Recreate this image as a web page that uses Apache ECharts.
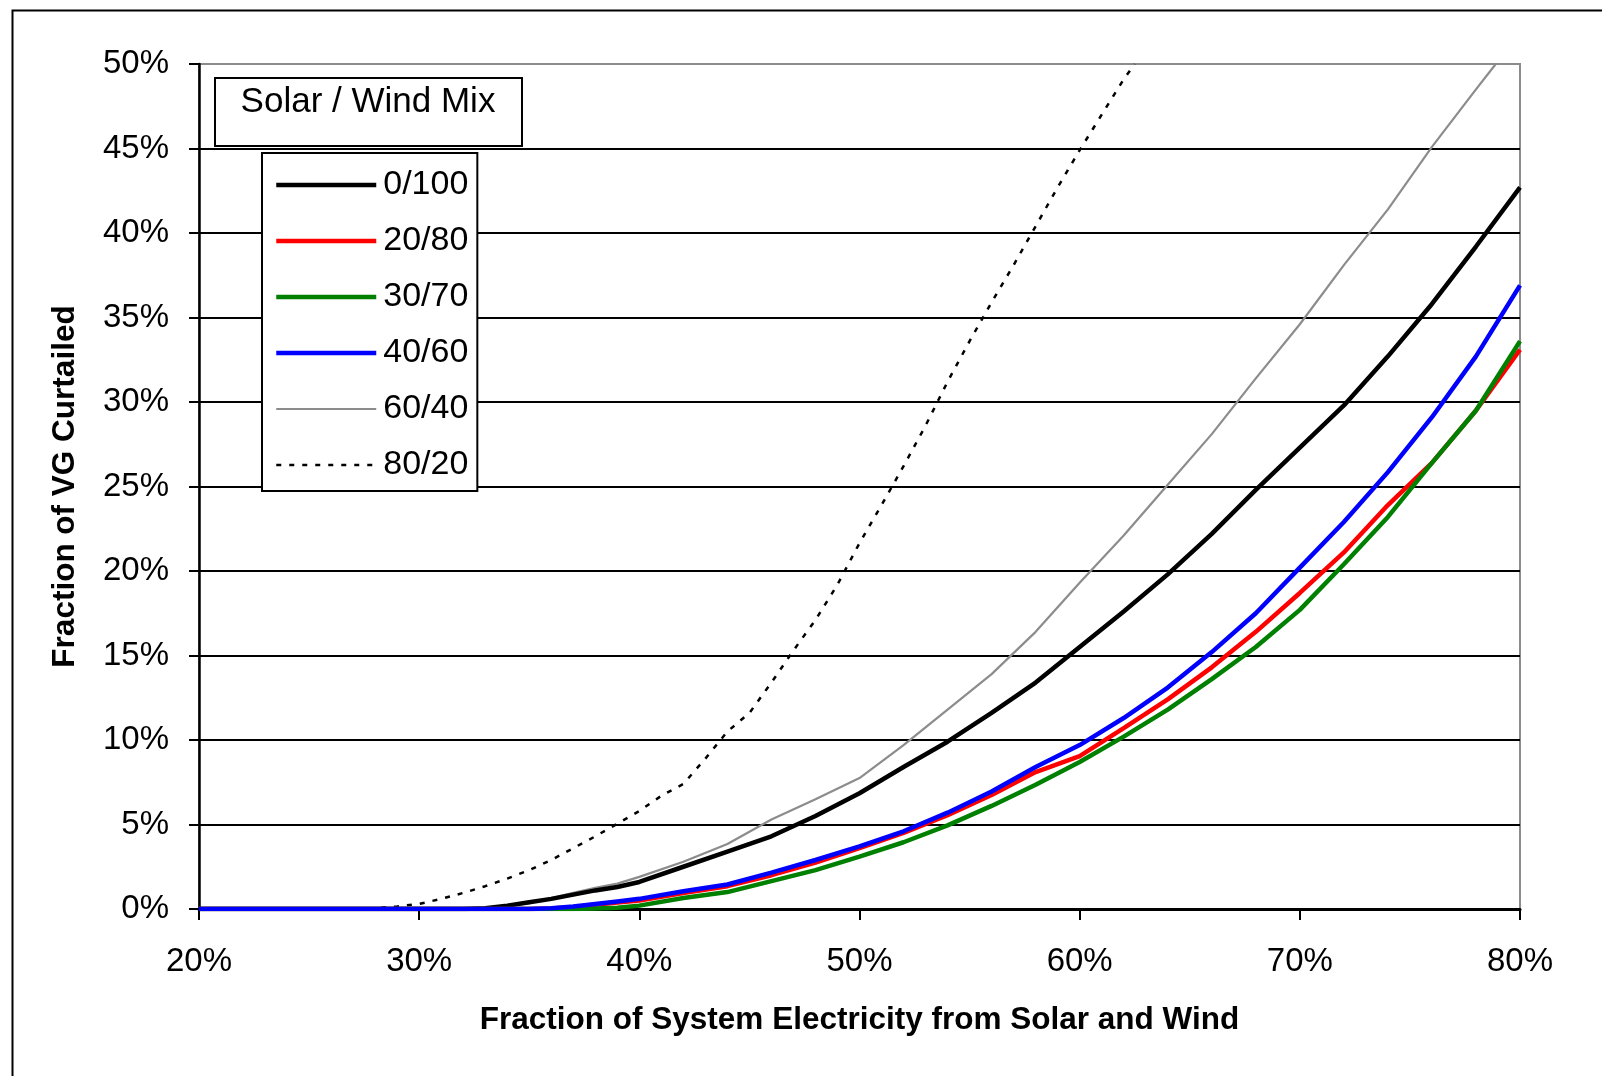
<!DOCTYPE html>
<html>
<head>
<meta charset="utf-8">
<script src="https://cdn.jsdelivr.net/npm/echarts@6/dist/echarts.min.js"></script>
<style>
  html, body { margin: 0; padding: 0; background: #fff; }
  #chart { width: 1602px; height: 1076px; }
</style>
</head>
<body>
<div id="chart"></div>
<script>
// ---- Data (x = fraction of system electricity from solar and wind, %; y = fraction of VG curtailed, %) ----
const seriesNames = ['0/100', '20/80', '30/70', '40/60', '60/40', '80/20'];

const xCommon = [20, 30, 32, 33, 34, 35, 36, 37, 38, 39, 40, 42, 44, 46, 48, 50, 52, 54, 56, 58, 60, 62, 64, 66, 68, 70, 72, 74, 76, 78, 80];

const y_0_100 = [0, 0, 0, 0.05, 0.2, 0.4, 0.6, 0.85, 1.1, 1.3, 1.6, 2.5, 3.4, 4.3, 5.5, 6.85, 8.4, 9.9, 11.6, 13.4, 15.5, 17.6, 19.8, 22.2, 24.8, 27.3, 29.8, 32.7, 35.8, 39.2, 42.7];
const y_20_80 = [0, 0, 0, 0, 0, 0, 0.03, 0.12, 0.25, 0.38, 0.5, 0.95, 1.35, 2.0, 2.75, 3.6, 4.5, 5.55, 6.75, 8.1, 9.05, 10.7, 12.4, 14.3, 16.4, 18.7, 21.1, 23.9, 26.4, 29.5, 33.1];
const y_30_70 = [0, 0, 0, 0, 0, 0, 0, 0, 0.03, 0.08, 0.2, 0.65, 1.0, 1.65, 2.3, 3.1, 3.95, 4.95, 6.1, 7.35, 8.7, 10.2, 11.8, 13.6, 15.5, 17.7, 20.4, 23.2, 26.4, 29.5, 33.6];
const y_40_60 = [0, 0, 0, 0, 0, 0, 0.05, 0.15, 0.3, 0.45, 0.6, 1.05, 1.45, 2.15, 2.9, 3.7, 4.6, 5.7, 6.95, 8.4, 9.7, 11.3, 13.1, 15.2, 17.5, 20.2, 22.9, 25.85, 29.1, 32.7, 36.9];

const x_60_40 = [20, 30, 32, 33, 34, 35, 36, 37, 38, 39, 40, 42, 44, 46, 48, 50, 52, 54, 56, 58, 60, 62, 64, 66, 68, 70, 72, 74, 76, 78, 78.9];
const y_60_40 = [0, 0, 0, 0.05, 0.15, 0.35, 0.65, 0.95, 1.25, 1.5, 1.9, 2.8, 3.85, 5.3, 6.5, 7.75, 9.7, 11.8, 13.9, 16.4, 19.3, 22.1, 25.1, 28.1, 31.4, 34.6, 38.1, 41.4, 45.1, 48.5, 50];

const x_80_20 = [20, 28, 29, 30, 31, 32, 33, 34, 35, 36, 37, 38, 39, 40, 41, 42, 43, 44, 45, 46, 47, 48, 49, 50, 51, 52, 53, 54, 55, 56, 57, 58, 59, 60, 61, 62, 62.5];
const y_80_20 = [0.05, 0.05, 0.15, 0.3, 0.6, 0.95, 1.35, 1.8, 2.3, 2.9, 3.6, 4.3, 5.05, 5.8, 6.7, 7.4, 8.9, 10.5, 11.6, 13.4, 15.3, 17.1, 19.2, 21.65, 23.9, 26.2, 28.6, 31.2, 33.6, 35.9, 38.1, 40.4, 42.7, 44.9, 47.0, 49.1, 50];

const xMin = 20, xMax = 80, xStep = 10;
const yMin = 0, yMax = 50, yStep = 5;
const legendTitle = 'Solar / Wind Mix';
const xTitle = 'Fraction of System Electricity from Solar and Wind';
const yTitle = 'Fraction of VG Curtailed';

function pairs(xs, ys) { return xs.map((x, i) => [x, ys[i]]); }

const FONT = '"Liberation Sans", Arial, sans-serif';

const chart = echarts.init(document.getElementById('chart'), null, { renderer: 'canvas' });

const lineSeries = (name, data, color, width, type) => ({
  name, type: 'line', data, symbol: 'none', showSymbol: false, smooth: false,
  clip: true, animation: false,
  lineStyle: { color, width, type: type || 'solid', cap: 'butt' },
  itemStyle: { color },
  emphasis: { disabled: true }
});

chart.setOption({
  animation: false,
  backgroundColor: '#fff',
  textStyle: { fontFamily: FONT, color: '#000' },
  grid: {
    left: 199, right: 82, top: 64, bottom: 167,
    show: true, borderColor: '#8c8c8c', borderWidth: 2, backgroundColor: 'transparent'
  },
  xAxis: {
    type: 'value', min: xMin, max: xMax, interval: xStep,
    name: xTitle, nameLocation: 'middle', nameGap: 95,
    nameTextStyle: { fontFamily: FONT, fontSize: 31.5, fontWeight: 'bold', color: '#000' },
    axisLine: { show: true, onZero: false, lineStyle: { color: '#000', width: 3 } },
    axisTick: { show: true, inside: false, length: 11, lineStyle: { color: '#000', width: 2 } },
    axisLabel: { formatter: '{value}%', fontFamily: FONT, fontSize: 33, color: '#000', margin: 36 },
    splitLine: { show: false }
  },
  yAxis: {
    type: 'value', min: yMin, max: yMax, interval: yStep,
    name: yTitle, nameLocation: 'middle', nameGap: 118, nameRotate: 90,
    nameTextStyle: { fontFamily: FONT, fontSize: 31.5, fontWeight: 'bold', color: '#000' },
    axisLine: { show: true, onZero: false, lineStyle: { color: '#000', width: 2.5 } },
    axisTick: { show: true, inside: false, length: 10, lineStyle: { color: '#000', width: 2 } },
    axisLabel: { formatter: '{value}%', fontFamily: FONT, fontSize: 33, color: '#000', margin: 30 },
    splitLine: { show: true, showMaxLine: false, lineStyle: { color: '#000', width: 2 } }
  },
  legend: {
    show: true, orient: 'vertical', left: 262, top: 153,
    data: seriesNames,
    itemWidth: 100, itemHeight: 2, itemGap: 22,
    padding: [15, 9, 9, 12],
    backgroundColor: '#fff', borderColor: '#000', borderWidth: 2,
    textStyle: { fontFamily: FONT, fontSize: 34, color: '#000', padding: [0, 0, 0, 2] },
    lineStyle: { width: 'inherit' },
    itemStyle: { opacity: 0 },
    selectedMode: false
  },
  graphic: [
    {
      type: 'rect', left: 10, top: 8, z: -10, silent: true,
      shape: { width: 1700, height: 1300 },
      style: { fill: 'none', stroke: '#000', lineWidth: 2 }
    },
    {
      type: 'group', left: 214, top: 77, z: 100, silent: true,
      children: [
        { type: 'rect', shape: { x: 0, y: 0, width: 307, height: 68 },
          style: { fill: '#fff', stroke: '#000', lineWidth: 2 } },
        { type: 'text', x: 153, y: 24,
          style: { text: legendTitle, font: '35px ' + FONT, fill: '#000', textAlign: 'center', textVerticalAlign: 'middle' } }
      ]
    }
  ],
  series: [
    lineSeries(seriesNames[4], pairs(x_60_40, y_60_40), '#8c8c8c', 2.2),
    lineSeries(seriesNames[5], pairs(x_80_20, y_80_20), '#000', 2.5, [5, 8]),
    lineSeries(seriesNames[0], pairs(xCommon, y_0_100), '#000', 4.5),
    lineSeries(seriesNames[1], pairs(xCommon, y_20_80), '#ff0000', 4.5),
    lineSeries(seriesNames[2], pairs(xCommon, y_30_70), '#008000', 4.5),
    lineSeries(seriesNames[3], pairs(xCommon, y_40_60), '#0000ff', 4.5)
  ]
});
</script>
</body>
</html>
